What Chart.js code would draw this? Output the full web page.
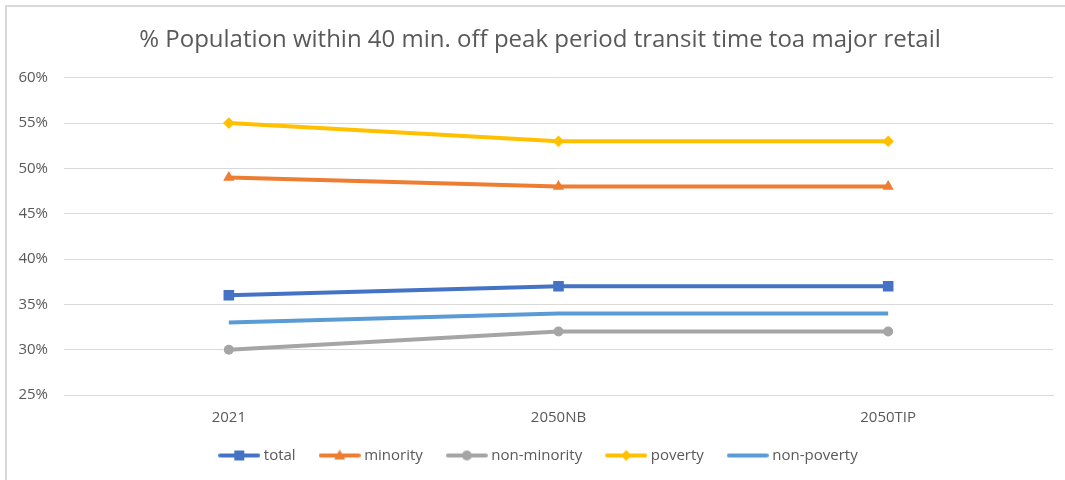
<!DOCTYPE html>
<html>
<head>
<meta charset="utf-8">
<script src="https://cdn.jsdelivr.net/npm/chart.js@4.4.1/dist/chart.umd.min.js"></script>
<style>
  html, body { margin: 0; padding: 0; background: #fff; overflow: hidden; }
  body { width: 1065px; height: 480px; position: relative; }
  #frame { position: absolute; left: 5px; top: 5px; width: 1100px; height: 500px;
           border-left: 2px solid #d9d9d9; border-top: 2px solid #d9d9d9; }
  #wrap { position: absolute; left: 0; top: 0; width: 1080px; height: 480px; }
</style>
</head>
<body>
<div id="frame"></div>
<div id="wrap"><canvas id="lineChart"></canvas></div>
<script>
// chart data
const categories = ['2021', '2050NB', '2050TIP'];
const seriesNames = ['total', 'minority', 'non-minority', 'poverty', 'non-poverty'];
const totalVals = [36, 37, 37];
const minorityVals = [49, 48, 48];
const nonMinorityVals = [30, 32, 32];
const povertyVals = [55, 53, 53];
const nonPovertyVals = [33, 34, 34];
const yTicks = [25, 30, 35, 40, 45, 50, 55, 60];

const colors = ['#4472C4', '#ED7D31', '#A5A5A5', '#FFC000', '#5B9BD5'];
const markers = ['rect', 'triangle', 'circle', 'rectRot', false];
const radii = [7.5, 6.5, 5, 5.8, 0];
const values = [totalVals, minorityVals, nonMinorityVals, povertyVals, nonPovertyVals];

// small canvas with a line + marker, used as the legend symbol
function legendSymbol(color, marker) {
    const c = document.createElement('canvas');
    c.width = 42; c.height = 14;
    const g = c.getContext('2d');
    g.strokeStyle = color; g.fillStyle = color;
    g.lineWidth = 4; g.lineCap = 'round';
    g.beginPath(); g.moveTo(2, 7); g.lineTo(40, 7); g.stroke();
    const x = 21, y = 7;
    g.beginPath();
    if (marker === 'rect') g.rect(x - 5, y - 5, 10, 10);
    else if (marker === 'triangle') { g.moveTo(x, y - 6); g.lineTo(x + 5.5, y + 4); g.lineTo(x - 5.5, y + 4); g.closePath(); }
    else if (marker === 'circle') g.arc(x, y, 5, 0, Math.PI * 2);
    else if (marker === 'rectRot') { g.moveTo(x, y - 5.5); g.lineTo(x + 5.5, y); g.lineTo(x, y + 5.5); g.lineTo(x - 5.5, y); g.closePath(); }
    if (marker) g.fill();
    return c;
}

const datasets = seriesNames.map((name, i) => ({
    label: name,
    data: values[i],
    borderColor: colors[i],
    backgroundColor: colors[i],
    borderWidth: 4,
    pointStyle: markers[i] || 'circle',
    pointRadius: radii[i],
    pointBorderWidth: 0,
    pointHoverRadius: radii[i],
    tension: 0
}));

const symbols = seriesNames.map((n, i) => legendSymbol(colors[i], markers[i]));

// axis labels sit outside their tight boxes, so widen the label clip boxes
const unclipLabels = {
    id: 'unclipLabels',
    afterLayout: function(chart) {
        chart.scales.y.left = 0;
        chart.scales.x.bottom = chart.height;
    }
};

const ctx = document.getElementById('lineChart').getContext('2d');
new Chart(ctx, {
    type: 'line',
    data: { labels: categories, datasets: datasets },
    plugins: [unclipLabels],
    options: {
        responsive: true,
        maintainAspectRatio: false,
        animation: false,
        layout: { padding: { left: 27, right: 27, top: 0, bottom: 7 } },
        plugins: {
            title: {
                display: true,
                text: '% Population within 40 min. off peak period transit time toa major retail',
                color: '#595959',
                font: { family: 'Open Sans', size: 24, weight: 'normal' },
                padding: { top: 26, bottom: 23 }
            },
            legend: {
                position: 'bottom',
                labels: {
                    usePointStyle: true,
                    pointStyleWidth: 34,
                    padding: 27,
                    color: '#595959',
                    font: { family: 'Open Sans', size: 15 },
                    generateLabels: function(chart) {
                        return chart.data.datasets.map((ds, i) => ({
                            text: ds.label,
                            fontColor: '#595959',
                            pointStyle: symbols[i],
                            datasetIndex: i,
                            lineWidth: 0,
                            hidden: false
                        }));
                    }
                }
            },
            tooltip: { enabled: false }
        },
        scales: {
            y: {
                min: 25,
                max: 60,
                afterFit: function(scale) { scale.width = 37; },
                afterBuildTicks: function(scale) { scale.ticks = yTicks.map(v => ({ value: v })); },
                ticks: {
                    padding: 16,
                    color: '#595959',
                    font: { family: 'Open Sans', size: 15 },
                    callback: v => v + '%'
                },
                grid: { color: '#d9d9d9', lineWidth: 1, drawTicks: false },
                border: { display: false }
            },
            x: {
                offset: true,
                afterFit: function(scale) { scale.height = 26; },
                ticks: {
                    padding: 14,
                    color: '#595959',
                    font: { family: 'Open Sans', size: 15 }
                },
                grid: { display: false, drawTicks: false },
                border: { display: true, color: '#d9d9d9', width: 1 }
            }
        }
    }
});
</script>
</body>
</html>
